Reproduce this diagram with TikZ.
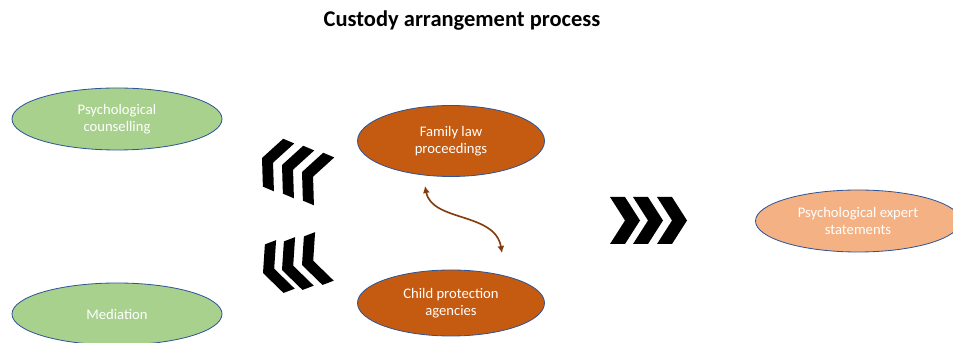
\documentclass[tikz,border=0pt]{standalone}
\usepackage{fontspec}
\setmainfont{Carlito}
\usetikzlibrary{shapes.geometric, arrows.meta}
\definecolor{sage}{RGB}{169,209,142}
\definecolor{rust}{RGB}{197,90,17}
\definecolor{peach}{RGB}{244,177,131}
\definecolor{rim}{RGB}{47,85,151}
\definecolor{umber}{RGB}{132,60,12}
\begin{document}
\begin{tikzpicture}[x=0.03cm, y=0.03cm,
    blob/.style={ellipse, draw=rim, line width=0.7pt, text=white, align=center,
      inner sep=0pt, font=\fontsize{12.5}{14.5}\selectfont},
    chevron/.style={fill=black}]
        \clip (0, 0) rectangle (953, 343);
        % Title
        \node (title) at (462, 322) {\fontsize{19.2}{21}\selectfont\bfseries Custody arrangement process};

        % Support services
        \node[blob, fill=sage, minimum width=6.3cm, minimum height=1.86cm] (counsel) at (117, 224) {Psychological\\counselling};
        \node[blob, fill=sage, minimum width=6.3cm, minimum height=1.86cm] (mediation) at (117, 29) {Mediation};

        % Proceedings
        \node[blob, fill=rust, minimum width=5.61cm, minimum height=2.13cm] (family) at (451, 202) {Family law\\proceedings};
        \node[blob, fill=rust, minimum width=5.61cm, minimum height=1.98cm] (child) at (451, 40) {Child protection\\agencies};

        % Outcome
        \node[blob, fill=peach, minimum width=6.15cm, minimum height=1.86cm] (expert) at (858, 122) {Psychological expert\\statements};

        % Exchange between proceedings
        \coordinate (famend) at (425, 157);
        \coordinate (childend) at (502, 90);
        \draw[umber, line width=1.4pt, {Latex[length=6pt,width=6pt]}-{Latex[length=6pt,width=6pt]}] (famend) .. controls (432, 121) and (495, 131) .. (childend);

        % Chevrons to the left
        \foreach \x/\y in {262/185, 282/178, 302/171}
            \fill[chevron, shift={(\x, \y)}, rotate=157] (0, 0) -- (-12, 26) -- (-24, 26) -- (-12, 0) -- (-24, -26) -- (-12, -26) -- cycle;
        \foreach \x/\y in {263/70, 282/73, 302/78}
            \fill[chevron, shift={(\x, \y)}, rotate=201] (0, 0) -- (-12, 26) -- (-24, 26) -- (-12, 0) -- (-24, -26) -- (-12, -26) -- cycle;

        % Chevrons to the right
        \foreach \x in {640, 663, 687}
            \fill[chevron, shift={(\x, 122.5)}] (0, 0) -- (-15, 23.5) -- (-30, 23.5) -- (-15, 0) -- (-30, -23.5) -- (-15, -23.5) -- cycle;
\end{tikzpicture}
\end{document}
